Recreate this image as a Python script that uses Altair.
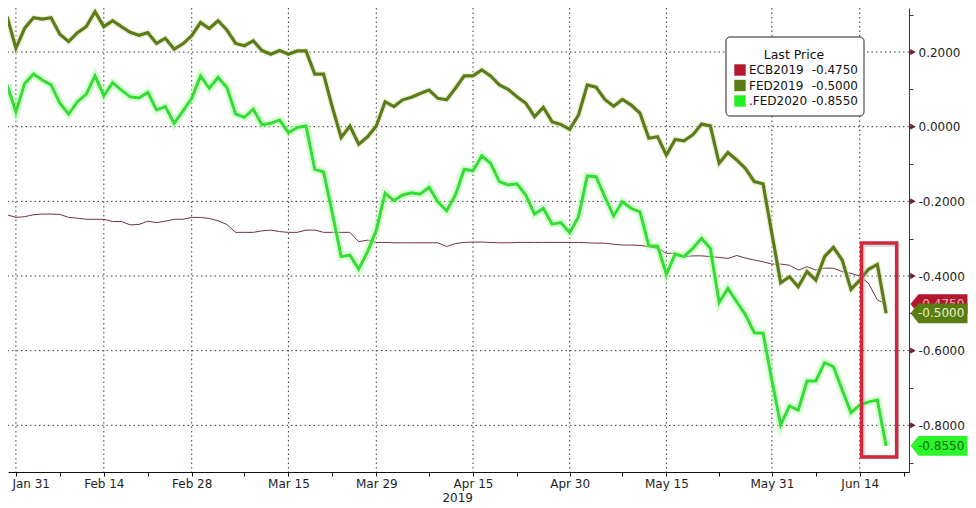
import altair as alt
import numpy as np
import pandas as pd

# ---------------- data ----------------
START, END = "2019-01-30", "2019-06-19"
dates = pd.bdate_range(START, END)  # weekday axis (weekends compressed)

ecb2019 = [
    -0.236, -0.243, -0.241, -0.236, -0.234, -0.234, -0.235, -0.243, -0.245, -0.248,
    -0.248, -0.248, -0.254, -0.254, -0.263, -0.262, -0.253, -0.257, -0.253, -0.248,
    -0.248, -0.243, -0.243, -0.246, -0.252, -0.262, -0.283, -0.283, -0.283, -0.279,
    -0.277, -0.281, -0.283, -0.283, -0.277, -0.277, -0.283, -0.283, -0.283, -0.283,
    -0.308, -0.304, -0.310, -0.310, -0.311, -0.311, -0.311, -0.311, -0.311, -0.311,
    -0.321, -0.313, -0.310, -0.309, -0.309, -0.310, -0.311, -0.311, -0.310, -0.310,
    -0.310, -0.310, -0.310, -0.310, -0.310, -0.310, -0.311, -0.312, -0.312, -0.315,
    -0.317, -0.317, -0.318, -0.321, -0.326, -0.339, -0.339, -0.348, -0.346, -0.346,
    -0.348, -0.350, -0.353, -0.345, -0.352, -0.357, -0.362, -0.368, -0.368, -0.371,
    -0.384, -0.375, -0.384, -0.379, -0.379, -0.388, -0.393, -0.400, -0.420, -0.464,
    -0.475,
]
fed2019 = [
    0.295, 0.210, 0.264, 0.292, 0.288, 0.292, 0.248, 0.228, 0.252, 0.268,
    0.308, 0.268, 0.284, 0.268, 0.253, 0.245, 0.252, 0.223, 0.237, 0.208,
    0.222, 0.244, 0.279, 0.263, 0.284, 0.259, 0.223, 0.217, 0.230, 0.204,
    0.194, 0.204, 0.194, 0.203, 0.203, 0.141, 0.141, 0.052, -0.029, 0.002,
    -0.047, -0.027, 0.002, 0.067, 0.054, 0.072, 0.079, 0.089, 0.098, 0.076,
    0.072, 0.103, 0.136, 0.136, 0.152, 0.136, 0.112, 0.100, 0.080, 0.063,
    0.027, 0.052, 0.013, 0.006, -0.007, 0.031, 0.112, 0.106, 0.073, 0.055,
    0.073, 0.058, 0.036, -0.031, -0.027, -0.076, -0.034, -0.038, -0.022, 0.007,
    0.002, -0.098, -0.069, -0.089, -0.112, -0.147, -0.153, -0.286, -0.418, -0.402,
    -0.429, -0.388, -0.411, -0.348, -0.323, -0.357, -0.436, -0.411, -0.382, -0.369,
    -0.500,
]
fed2020 = [
    0.112, 0.040, 0.116, 0.141, 0.125, 0.112, 0.063, 0.034, 0.067, 0.087,
    0.136, 0.083, 0.118, 0.098, 0.080, 0.077, 0.092, 0.045, 0.054, 0.009,
    0.042, 0.076, 0.136, 0.103, 0.132, 0.105, 0.034, 0.025, 0.047, 0.005,
    0.009, 0.018, -0.016, -0.002, 0.002, -0.114, -0.121, -0.232, -0.348, -0.344,
    -0.382, -0.335, -0.277, -0.178, -0.198, -0.183, -0.177, -0.181, -0.162, -0.201,
    -0.225, -0.183, -0.114, -0.118, -0.078, -0.098, -0.147, -0.156, -0.153, -0.183,
    -0.234, -0.219, -0.261, -0.257, -0.284, -0.241, -0.132, -0.134, -0.188, -0.239,
    -0.201, -0.219, -0.228, -0.319, -0.320, -0.395, -0.341, -0.348, -0.326, -0.299,
    -0.326, -0.471, -0.433, -0.469, -0.504, -0.552, -0.553, -0.679, -0.799, -0.748,
    -0.759, -0.681, -0.681, -0.632, -0.643, -0.705, -0.766, -0.746, -0.737, -0.732,
    -0.855,
]

series_names = ["ECB2019", "FED2019", ".FED2020"]
last_values = [-0.4750, -0.5000, -0.8550]
swatch_colors = ["#b3162f", "#5a7d12", "#22f022"]
tag_fills = ["#b3162f", "#5a7d12", "#2cf52c"]
tag_text_colors = ["#f4b0b8", "#e6f2c8", "#156b15"]

major_dates = ["2019-01-31", "2019-02-14", "2019-02-28", "2019-03-15", "2019-03-29",
               "2019-04-15", "2019-04-30", "2019-05-15", "2019-05-31", "2019-06-14"]
major_labels = ["Jan 31", "Feb 14", "Feb 28", "Mar 15", "Mar 29",
                "Apr 15", "Apr 30", "May 15", "May 31", "Jun 14"]
minor_dates = ["2019-02-07", "2019-02-21", "2019-03-08", "2019-03-22", "2019-04-08",
               "2019-04-22", "2019-05-08", "2019-05-23", "2019-06-07", "2019-06-21"]
y_ticks = [-0.9, -0.8, -0.7, -0.6, -0.5, -0.4, -0.3, -0.2, -0.1, 0.0, 0.1, 0.2, 0.3]
y_grid = [-0.8, -0.6, -0.4, -0.2, 0.0, 0.2]
year_label = "2019"
year_anchor = "2019-04-15"
highlight = {"x0": 97.2, "x1": 101.2, "y0": -0.3115, "y1": -0.885}

# ---------------- layout ----------------
W, H = 901, 464
FONT = "DejaVu Sans"
GRID = "#3a3a3a"
AXIS_RED = "#5e2536"


def bidx(d):
    return int(np.busday_count(START, d))


major_idx = [bidx(d) for d in major_dates]
minor_idx = [bidx(d) for d in minor_dates]

wide = pd.DataFrame({"idx": np.arange(len(dates)), "ECB2019": ecb2019,
                     "FED2019": fed2019, ".FED2020": fed2020})
long = wide.melt("idx", var_name="series", value_name="value")

xs = alt.Scale(domain=[0.1, 102.6], nice=False, zero=False)
ys = alt.Scale(domain=[-0.925, 0.318], nice=False, zero=False)

x_label_expr = "''"
for i, lab in reversed(list(zip(major_idx, major_labels))):
    x_label_expr = f"datum.value == {i} ? '{lab}' : ({x_label_expr})"

x_axis = alt.Axis(values=sorted(major_idx + minor_idx), labelExpr=x_label_expr, grid=False,
                  domainColor="#111111", tickColor="#111111", tickSize=4,
                  labelFont=FONT, labelFontSize=12, labelColor="#1e1e1e", labelPadding=2,
                  labelFlush=20, labelFlushOffset=4, labelOverlap=False, title=None)
y_label_expr = ("abs(round(datum.value * 10)) % 2 == 0 ? "
                "replace(format(datum.value, '.4f'), '\u2212', '-') : ''")
y_axis = alt.Axis(orient="right", values=y_ticks, labelExpr=y_label_expr, grid=False,
                  domainColor=AXIS_RED, tickColor=AXIS_RED, tickSize=4, labelPadding=5,
                  labelFont=FONT, labelFontSize=12, labelColor="#1e1e1e",
                  labelOverlap=False, title=None)


def X(field):
    return alt.X(field, scale=xs, axis=x_axis, title=None)


def Y(field):
    return alt.Y(field, scale=ys, axis=y_axis, title=None)


def series_line(name, **mark):
    return alt.Chart(long).transform_filter(alt.datum.series == name).mark_line(**mark).encode(
        x=X("idx:Q"), y=Y("value:Q"))


hgrid = alt.Chart(pd.DataFrame({"value": y_grid})).mark_rule(
    color=GRID, strokeWidth=1, strokeDash=[1.5, 3]
).encode(y=Y("value:Q"))

vgrid = alt.Chart(pd.DataFrame({"idx": major_idx})).mark_rule(
    color=GRID, strokeWidth=1, strokeDash=[1.5, 3]
).encode(x=X("idx:Q"))

ecb_line = series_line("ECB2019", color="#6d3346", strokeWidth=1)
glow19 = series_line("FED2019", color="#dfe9c0", strokeWidth=6, opacity=0.6)
glow20 = series_line(".FED2020", color="#a8ffa0", strokeWidth=8, opacity=0.45)
fed19_line = series_line("FED2019", color="#5c7c1c", strokeWidth=3.2)
fed20_line = series_line(".FED2020", color="#35dc35", strokeWidth=3)

hl_df = pd.DataFrame([highlight])
hl_enc = dict(x=X("x0:Q"), x2="x1:Q", y=Y("y0:Q"), y2="y1:Q")
hl_shadow = alt.Chart(hl_df).mark_rect(filled=False, color="#999999", strokeWidth=4,
                                       opacity=0.35, xOffset=2, yOffset=2).encode(**hl_enc)
hl_box = alt.Chart(hl_df).mark_rect(filled=False, color="#d0293b",
                                    strokeWidth=3.5).encode(**hl_enc)

# legend (manual, Bloomberg style)
one = pd.DataFrame({"a": [0]})
leg_box = alt.Chart(one).mark_rect(fill="white", stroke="#222222", strokeWidth=1,
                                   cornerRadius=4).encode(
    x=alt.value(718), x2=alt.value(856), y=alt.value(29), y2=alt.value(108))
leg_title = alt.Chart(one).mark_text(text="Last Price", font=FONT, fontSize=12.5,
                                     color="#111111", align="center", baseline="middle").encode(
    x=alt.value(786), y=alt.value(47))
leg_df = pd.DataFrame({
    "name": series_names,
    "lastlabel": [f"{v:.4f}" for v in last_values],
    "swatch": swatch_colors,
    "ypix": [62, 77.5, 93],
})
leg_sq = alt.Chart(leg_df).mark_square(size=130, opacity=1).encode(
    x=alt.value(732), y=alt.Y("ypix:Q", scale=None, axis=None),
    color=alt.Color("swatch:N", scale=None))
leg_names = alt.Chart(leg_df).mark_text(align="left", baseline="middle", font=FONT,
                                        fontSize=12, color="#111111").encode(
    x=alt.value(741), y=alt.Y("ypix:Q", scale=None, axis=None), text="name:N")
leg_vals = alt.Chart(leg_df).mark_text(align="right", baseline="middle", font=FONT,
                                       fontSize=12, color="#111111").encode(
    x=alt.value(850), y=alt.Y("ypix:Q", scale=None, axis=None), text="lastlabel:N")

# axis arrow ticks
tri = alt.Chart(pd.DataFrame({"value": y_grid})).mark_point(
    shape="triangle-right", filled=True, size=40, color="#6b1f33", opacity=1
).encode(x=alt.value(W + 4), y=Y("value:Q"))

# last-price tags
TAG = "M-1,0L-0.72,-0.345L1,-0.345L1,0.345L-0.72,0.345Z"
tag_layers = []
for name, last, fill, tcol in zip(series_names, last_values, tag_fills, tag_text_colors):
    tdf = pd.DataFrame({"value": [last], "fill": [fill], "tcolor": [tcol],
                        "label": [f"{last:.4f}"]})
    tag_layers.append(alt.Chart(tdf).mark_point(shape=TAG, size=3249, filled=True,
                                                opacity=1, strokeWidth=0).encode(
        x=alt.value(W + 30), y=Y("value:Q"), color=alt.Color("fill:N", scale=None)))
    tag_layers.append(alt.Chart(tdf).mark_text(align="left", baseline="middle", font=FONT,
                                               fontSize=12).encode(
        x=alt.value(W + 9), y=Y("value:Q"), text="label:N",
        color=alt.Color("tcolor:N", scale=None)))

year = alt.Chart(pd.DataFrame({"idx": [bidx(year_anchor)], "t": [year_label]})).mark_text(
    align="right", baseline="alphabetic", font=FONT, fontSize=12, color="#1e1e1e"
).encode(x=X("idx:Q"), y=alt.value(H + 30), text="t:N")

chart = alt.layer(
    hgrid, vgrid, ecb_line, glow19, glow20, fed19_line, fed20_line,
    hl_shadow, hl_box, leg_box, leg_title, leg_sq, leg_names, leg_vals,
    tri, *tag_layers, year,
).properties(
    width=W, height=H,
    padding={"left": 0, "top": 0, "right": 59, "bottom": 36},
    autosize=alt.AutoSizeParams(type="none"),
    background="white",
).configure_view(stroke="transparent")

chart.save("out.html", embed_options={"renderer": "svg", "actions": False})
